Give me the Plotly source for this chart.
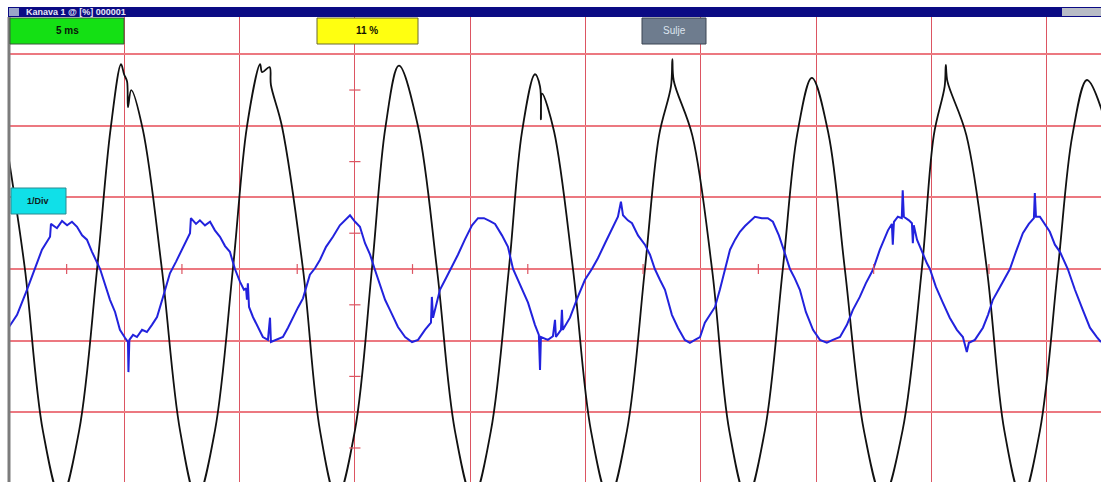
import plotly.graph_objects as go

# ---------------- data (time in ms, amplitude in divisions) ----------------
black_t = [0, 0.69, 1.47, 2.25, 3.04, 3.82, 4.40, 4.86, 4.99, 5.12, 5.16, 5.30, 5.81,
           6.63, 7.42, 8.15, 8.93, 9.71, 10.32, 10.89, 10.98, 11.30, 11.36, 11.84,
           12.75, 13.49, 14.22, 15.00, 15.74, 16.33, 16.91, 17.74,
           18.56, 19.34, 20.12, 20.90, 21.68, 22.25, 22.81, 23.03, 23.07, 23.12, 23.64,
           24.46, 25.24, 26.02, 26.80, 27.58, 28.19, 28.71, 28.77, 28.83, 29.64,
           30.49, 31.24, 32.00, 32.78, 33.56, 34.19, 34.82, 35.54,
           36.25, 37.08, 37.90, 38.75, 39.59, 40.11, 40.58, 40.63, 40.70, 41.52,
           42.41, 43.17, 43.93, 44.71, 45.49, 46.12, 46.75, 47.36, 47.80]
black_v = [1.52, 0, -2.26, -3.20, -2.26, 0, 1.94, 2.86, 2.72, 2.62, 2.26, 2.50, 1.94,
           0, -2.26, -3.20, -2.26, 0, 1.99, 2.86, 2.75, 2.82, 2.57, 1.99,
           0, -2.26, -3.20, -2.26, 0, 1.99, 2.84, 1.99,
           0, -2.26, -3.20, -2.26, 0, 1.92, 2.72, 2.55, 2.09, 2.45, 1.92,
           0, -2.26, -3.20, -2.26, 0, 1.86, 2.55, 2.93, 2.63, 1.86,
           0, -2.26, -3.20, -2.26, 0, 1.89, 2.67, 1.89,
           0, -2.26, -3.20, -2.26, 0, 1.87, 2.55, 2.85, 2.62, 1.87,
           0, -2.26, -3.20, -2.26, 0, 1.87, 2.64, 2.25, 1.50]

blue_t = [0, 0.35, 0.78, 1.13, 1.43, 1.78, 1.82, 2.08, 2.30, 2.52, 2.73, 2.95, 3.17, 3.38, 3.60,
          3.95, 4.16, 4.38, 4.60, 4.81, 5.03, 5.16, 5.18, 5.22, 5.38, 5.55, 5.77, 5.98, 6.20,
          6.42, 6.68, 6.85, 6.98, 7.24, 7.42, 7.63, 7.85, 7.89, 8.11, 8.28, 8.50, 8.72, 8.93,
          9.15, 9.37, 9.58, 9.80, 10.02, 10.19, 10.28, 10.32, 10.36, 10.41, 10.58, 10.80,
          11.01, 11.23, 11.32, 11.36, 11.58, 11.88, 12.10, 12.32, 12.53, 12.75, 12.93, 13.05,
          13.27, 13.49, 13.75, 14.05, 14.35, 14.57, 14.79, 15.01, 15.22, 15.44, 15.66, 15.87,
          16.09, 16.31, 16.52, 16.87, 17.18, 17.48, 17.74, 18.04, 18.30, 18.34, 18.39, 18.69,
          18.95, 19.21, 19.47, 19.77, 20.08, 20.34, 20.60, 20.86, 21.08, 21.38, 21.64, 21.86,
          22.16, 22.51, 22.81, 22.98, 23.03, 23.07, 23.37, 23.59, 23.68, 23.72, 23.94, 23.98,
          24.02, 24.33, 24.67, 24.98, 25.28, 25.54, 25.85, 26.15, 26.41, 26.54, 26.63, 26.84,
          27.02, 27.28, 27.58, 27.80, 28.01, 28.23, 28.45, 28.75, 29.01, 29.31, 29.53, 29.75,
          29.97, 30.18, 30.40, 30.62, 30.83, 31.05, 31.27, 31.49, 31.70, 31.92, 32.13, 32.35,
          32.65, 32.91, 33.13, 33.39, 33.65, 33.87, 34.08, 34.30, 34.56, 34.87, 35.17, 35.47,
          35.73, 36.04, 36.34, 36.60, 36.90, 37.16, 37.47, 37.77, 38.12, 38.29, 38.33, 38.38,
          38.55, 38.72, 38.76, 38.81, 39.03, 39.16, 39.20, 39.24, 39.38, 39.59, 39.81, 39.94,
          40.20, 40.50, 40.80, 41.11, 41.37, 41.54, 41.63, 41.89, 42.11, 42.24, 42.46, 42.67,
          42.98, 43.19, 43.41, 43.67, 43.97, 44.23, 44.45, 44.49, 44.54, 44.71, 44.93, 45.14,
          45.36, 45.58, 45.92, 46.23, 46.57, 46.88, 47.18, 47.36]
blue_v = [-0.81, -0.64, -0.29, 0.01, 0.27, 0.45, 0.63, 0.57, 0.67, 0.61, 0.66, 0.59, 0.47, 0.41, 0.24,
          0, -0.20, -0.43, -0.60, -0.85, -0.96, -1.02, -1.44, -0.99, -0.92, -0.95, -0.85, -0.88, -0.78,
          -0.67, -0.39, -0.22, -0.06, 0.10, 0.22, 0.36, 0.50, 0.71, 0.63, 0.68, 0.61, 0.66, 0.54,
          0.45, 0.32, 0.24, 0, -0.18, -0.29, -0.27, -0.43, -0.20, -0.53, -0.67, -0.82,
          -0.95, -0.99, -0.68, -1.02, -0.99, -0.95, -0.82, -0.67, -0.54, -0.41, -0.20, -0.08,
          0.01, 0.13, 0.31, 0.45, 0.61, 0.68, 0.75, 0.66, 0.59, 0.36, 0.20, -0.01,
          -0.22, -0.43, -0.57, -0.81, -0.95, -1.02, -0.99, -0.85, -0.75, -0.39, -0.68, -0.29,
          -0.13, 0.03, 0.20, 0.41, 0.61, 0.71, 0.71, 0.67, 0.63, 0.47, 0.31, 0,
          -0.22, -0.47, -0.78, -0.92, -1.41, -0.95, -0.99, -0.94, -0.71, -0.95, -0.85, -0.57,
          -0.85, -0.68, -0.39, -0.15, 0, 0.15, 0.36, 0.57, 0.73, 0.94, 0.75, 0.68,
          0.64, 0.47, 0.34, 0.20, 0, -0.15, -0.29, -0.64, -0.82, -0.99, -1.03, -0.99,
          -0.95, -0.75, -0.64, -0.53, -0.29, -0.01, 0.27, 0.41, 0.52, 0.60, 0.66, 0.73,
          0.71, 0.71, 0.66, 0.47, 0.22, 0, -0.13, -0.29, -0.60, -0.85, -0.99, -1.03,
          -0.99, -0.95, -0.78, -0.57, -0.39, -0.20, -0.01, 0.27, 0.54, 0.63, 0.34, 0.66,
          0.73, 0.71, 1.10, 0.73, 0.68, 0.64, 0.36, 0.61, 0.41, 0.24, 0.08, 0,
          -0.25, -0.47, -0.68, -0.85, -0.95, -1.16, -1.03, -0.99, -0.89, -0.82, -0.64, -0.43,
          -0.25, -0.13, 0, 0.24, 0.50, 0.63, 0.71, 1.06, 0.73, 0.73, 0.63, 0.52,
          0.34, 0.24, 0, -0.29, -0.57, -0.82, -0.95, -1.02]

t_range = [0, 47.36]
v_range = [-2.975, 3.52]
t_minor_ticks = [2.5, 7.5, 12.5, 17.5, 22.5, 27.5, 32.5, 37.5, 42.5]
v_minor_ticks = [-2.5, -1.5, -0.5, 0.5, 1.5, 2.5]
t_center = 15
v_center = 0

window_title = "Kanava 1 @ [%] 000001"
timebase_label = "5 ms"
trigger_label = "11 %"
close_label = "Sulje"
scale_label = "1/Div"

# ---------------- figure ----------------
W, H = 1101, 482
GRID_V = "#dc5562"
GRID_H = "#ec7880"

fig = go.Figure()
fig.add_trace(go.Scatter(x=black_t, y=black_v, mode="lines",
                         line=dict(color="#111111", width=1.8, shape="spline", smoothing=1.0),
                         hoverinfo="skip"))
fig.add_trace(go.Scatter(x=blue_t, y=blue_v, mode="lines",
                         line=dict(color="#2222dd", width=2),
                         hoverinfo="skip"))
# centre-axis minor ticks
fig.add_trace(go.Scatter(x=t_minor_ticks, y=[v_center] * len(t_minor_ticks), mode="markers",
                         marker=dict(symbol="line-ns", size=7, line=dict(color=GRID_V, width=1.2)),
                         hoverinfo="skip"))
fig.add_trace(go.Scatter(x=[t_center] * len(v_minor_ticks), y=v_minor_ticks, mode="markers",
                         marker=dict(symbol="line-ew", size=8, line=dict(color=GRID_V, width=1.2)),
                         hoverinfo="skip"))


def px_x(p):
    return p / W


def px_y(p):
    return 1 - p / H


fig.update_layout(
    width=W, height=H, margin=dict(l=0, r=0, t=0, b=0),
    paper_bgcolor="white", plot_bgcolor="white", showlegend=False,
    font=dict(family="Liberation Sans, Arial, sans-serif"),
    xaxis=dict(domain=[px_x(9), 1], range=t_range, tick0=0, dtick=5, showgrid=True,
               gridcolor=GRID_V, gridwidth=1.3, zeroline=False, showticklabels=False,
               ticks="", showline=False, fixedrange=True),
    yaxis=dict(domain=[0, px_y(17)], range=v_range, tick0=0, dtick=1, showgrid=True,
               gridcolor=GRID_H, gridwidth=1.8, zeroline=False, showticklabels=False,
               ticks="", showline=False, fixedrange=True),
)

shapes = []
# title bar
shapes.append(dict(type="rect", xref="paper", yref="paper", x0=px_x(8), x1=1,
                   y0=px_y(17), y1=px_y(7), fillcolor="#0b0b84", line=dict(width=0), layer="above"))
shapes.append(dict(type="rect", xref="paper", yref="paper", x0=px_x(9), x1=px_x(19),
                   y0=px_y(16), y1=px_y(8), fillcolor="#9aa6c8", line=dict(width=0), layer="above"))
shapes.append(dict(type="rect", xref="paper", yref="paper", x0=px_x(1062), x1=1,
                   y0=px_y(16), y1=px_y(8), fillcolor="#b8bcc6", line=dict(width=0), layer="above"))
# left border
shapes.append(dict(type="line", xref="paper", yref="paper", x0=px_x(9), x1=px_x(9),
                   y0=0, y1=px_y(17), line=dict(color="#7c7c7c", width=3), layer="above"))


def box(x0, x1, y0, y1, fill, border):
    shapes.append(dict(type="rect", xref="paper", yref="paper", x0=px_x(x0), x1=px_x(x1),
                       y0=px_y(y1), y1=px_y(y0), fillcolor=fill,
                       line=dict(color=border, width=1), layer="above"))


box(10, 124, 18, 44, "#14e014", "#3a5a3a")
box(317, 418, 18, 44, "#ffff10", "#6a6a30")
box(642, 706, 18, 44, "#6e7c8e", "#3a4452")
box(11, 66, 188, 214, "#10e0e8", "#2a8a90")
fig.update_layout(shapes=shapes)

ann = [
    dict(text="<b>" + window_title + "</b>", x=px_x(24), y=px_y(12), xanchor="left", yanchor="middle",
         font=dict(size=9, color="#e8e8f4")),
    dict(text="<b>" + timebase_label + "</b>", x=px_x(67), y=px_y(31), xanchor="center", yanchor="middle",
         font=dict(size=10, color="#0a140a")),
    dict(text="<b>" + trigger_label + "</b>", x=px_x(367), y=px_y(31), xanchor="center", yanchor="middle",
         font=dict(size=10, color="#141400")),
    dict(text=close_label, x=px_x(674), y=px_y(31), xanchor="center", yanchor="middle",
         font=dict(size=10, color="#dde5ee")),
    dict(text="<b>" + scale_label + "</b>", x=px_x(38), y=px_y(201), xanchor="center", yanchor="middle",
         font=dict(size=9, color="#102020")),
]
for a in ann:
    a.update(xref="paper", yref="paper", showarrow=False)
fig.update_layout(annotations=ann)

fig.write_html("out.html")
